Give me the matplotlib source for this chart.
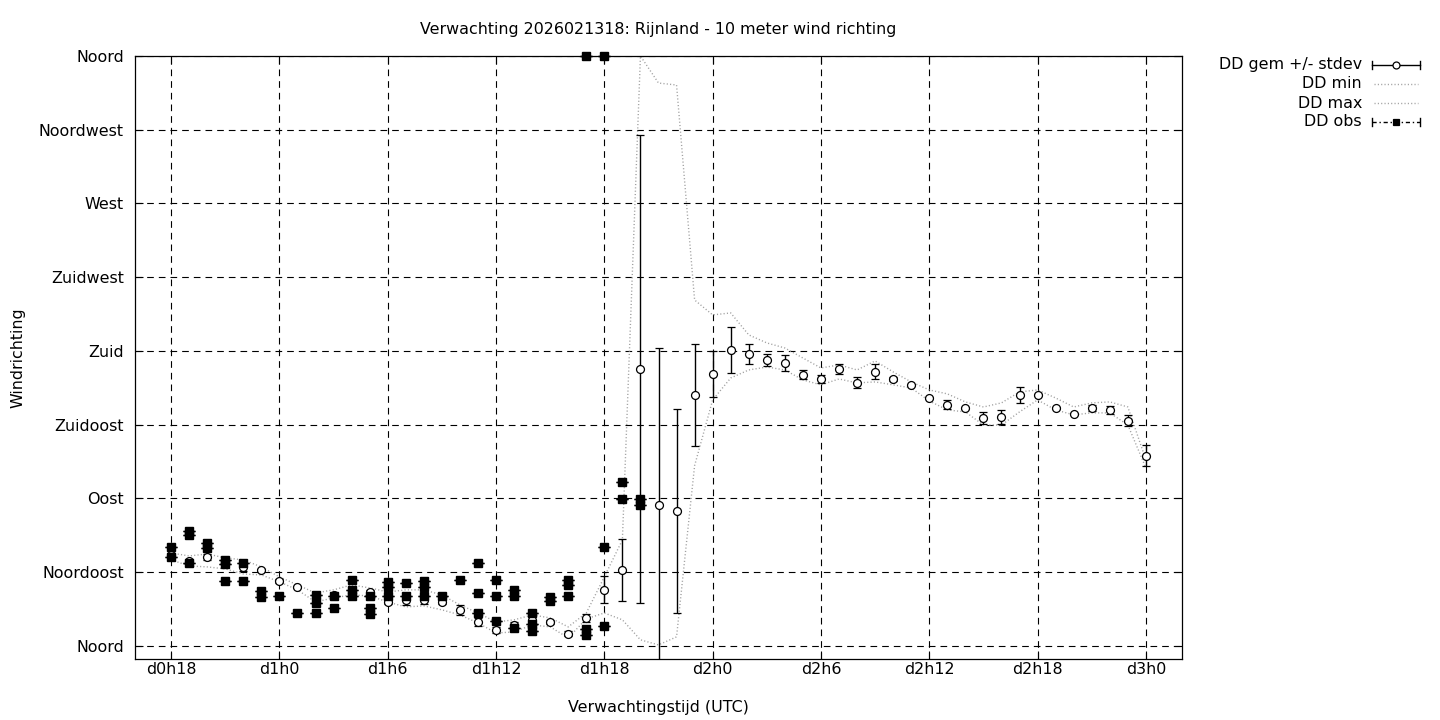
import matplotlib
matplotlib.use('Agg')
import matplotlib.pyplot as plt
from matplotlib.lines import Line2D

# forecast hours (d0h18 = 18 ... d3h0 = 72)
hours = list(range(18, 73))

# mean wind direction (degrees) per forecast hour
dd_mean = [55.5, 51.9, 54.3, 50.6, 48.2, 46.4, 39.7, 36.0, 29.3, 31.1,
           33.6, 32.9, 26.8, 28.1, 28.1, 26.8, 22.0, 14.6, 9.8, 12.8,
           15.9, 14.6, 7.3, 17.1, 34.2, 46.4, 169.0, 86.0, 82.4, 153.2,
           166.0, 180.6, 178.2, 174.5, 172.7, 165.4, 162.9, 169.0, 160.5, 167.2,
           162.9, 159.3, 151.3, 147.1, 145.2, 139.1, 139.7, 153.2, 153.2, 145.2,
           141.6, 145.2, 144.0, 137.3, 115.9]
# standard deviation
dd_std = [1.0, 1.0, 2.0, 1.0, 2.5, 0.6, 1.2, 0.6, 1.0, 1.0,
          1.0, 1.0, 1.2, 3.0, 2.5, 1.2, 3.0, 2.4, 2.0, 2.0,
          2.0, 1.0, 1.5, 2.5, 8.2, 18.9, 142.8, 95.8, 62.2, 31.1,
          14.0, 14.0, 6.1, 3.7, 4.9, 2.7, 2.7, 3.0, 3.4, 4.6,
          1.5, 0.6, 0.6, 2.7, 0.6, 3.4, 4.0, 4.9, 0.6, 0.6,
          0.6, 1.8, 2.4, 3.4, 6.4]
# ensemble minimum
dd_min = [52.5, 48.8, 48.2, 47.0, 43.9, 43.3, 39.1, 34.2, 26.8, 29.3,
          31.1, 30.5, 26.8, 23.8, 24.4, 22.0, 18.9, 14.0, 7.9, 8.5,
          12.8, 11.6, 4.9, 16.5, 20.1, 15.9, 3.7, 0.6, 5.5, 110.0,
          150.1, 163.5, 168.4, 170.2, 168.4, 162.3, 159.3, 162.9, 160.5, 161.1,
          159.3, 157.4, 149.5, 144.0, 142.8, 134.8, 134.8, 142.8, 150.1, 144.0,
          141.0, 142.2, 142.2, 134.8, 108.6]
# ensemble maximum
dd_max = [56.7, 54.9, 56.1, 53.7, 52.5, 48.2, 42.1, 37.2, 32.3, 34.2,
          37.2, 35.4, 32.9, 34.2, 34.2, 31.1, 25.0, 20.1, 14.6, 15.9,
          18.9, 17.1, 11.6, 20.1, 42.1, 64.7, 360.0, 343.5, 342.3, 211.1,
          202.0, 203.2, 189.8, 184.9, 181.8, 175.7, 169.6, 171.5, 168.4, 173.9,
          167.2, 161.1, 156.2, 153.8, 148.9, 145.8, 148.3, 155.0, 156.2, 151.3,
          145.8, 148.3, 148.9, 145.8, 113.5]

# observations (several stations)
obs_hours = [18, 18, 19, 19, 19, 20, 20, 21, 21, 21,
             22, 22, 23, 23, 24, 25, 26, 26, 26, 27,
             27, 28, 28, 28, 29, 29, 29, 30, 30, 30,
             31, 31, 32, 32, 32, 33, 34, 35, 35, 35,
             36, 36, 36, 37, 37, 37, 38, 38, 38, 39,
             39, 40, 40, 40, 41, 41, 41, 42, 42, 42,
             43, 43, 44, 44]
obs_dd = [60.4, 54.3, 70.2, 67.7, 50.6, 62.8, 59.8, 52.5, 50.0, 39.7,
          50.6, 39.7, 33.6, 29.9, 30.5, 20.1, 31.1, 26.2, 20.1, 30.5,
          23.2, 40.3, 34.2, 30.5, 30.5, 23.2, 19.5, 39.1, 36.0, 30.5,
          38.4, 30.5, 39.7, 36.0, 30.5, 30.5, 40.3, 50.6, 32.3, 20.1,
          40.3, 30.5, 15.3, 34.2, 30.5, 11.0, 20.1, 13.4, 9.2, 29.9,
          27.5, 40.3, 37.2, 30.5, 360.0, 10.4, 6.7, 360.0, 60.4, 12.2,
          100.1, 89.7, 89.7, 86.0]
obs_err = [0.0] * len(obs_dd)

ytick_vals = [0, 45, 90, 135, 180, 225, 270, 315, 360]
ytick_labels = ['Noord', 'Noordoost', 'Oost', 'Zuidoost', 'Zuid',
                'Zuidwest', 'West', 'Noordwest', 'Noord']
xtick_vals = list(range(18, 73, 6))
xtick_labels = ['d0h18', 'd1h0', 'd1h6', 'd1h12', 'd1h18',
                'd2h0', 'd2h6', 'd2h12', 'd2h18', 'd3h0']

plt.rcParams['font.family'] = ['DejaVu Sans']
fs = 11.4
dot = (0, (0.8, 1.6))

fig = plt.figure(figsize=(14.4, 7.2), dpi=100)
ax = fig.add_axes([135/1440, 1 - 659/720, (1182 - 135)/1440, (659 - 56)/720])

# mean +/- stdev
ax.errorbar(hours, dd_mean, yerr=dd_std, fmt='o', color='black',
            mfc='white', mec='black', ms=5.7, mew=0.9,
            elinewidth=1.0, capsize=3, capthick=1.0, zorder=3)
# min / max
ax.plot(hours, dd_min, linestyle=dot, color='#a0a0a0', lw=1.0, zorder=2)
ax.plot(hours, dd_max, linestyle=dot, color='#a0a0a0', lw=1.0, zorder=2)
# observations
ax.errorbar(obs_hours, obs_dd, yerr=obs_err, fmt='s', color='black',
            ms=5.8, elinewidth=1.0, capsize=4.2, capthick=1.0,
            zorder=4, clip_on=False)

ax.set_xlim(16, 74)
ax.set_ylim(-8, 360)
ax.set_xticks(xtick_vals)
ax.set_xticklabels(xtick_labels, fontsize=fs)
ax.set_yticks(ytick_vals)
ax.set_yticklabels(ytick_labels, fontsize=fs)
ax.tick_params(direction='in', length=6, width=0.8, top=True, right=True)
ax.tick_params(axis='x', pad=2.5)
ax.tick_params(axis='y', pad=8)
ax.grid(True, color='black', linestyle=(0, (6, 4.5)), linewidth=0.8)
for s in ax.spines.values():
    s.set_linewidth(0.9)

ax.set_title('Verwachting 2026021318: Rijnland - 10 meter wind richting',
             fontsize=fs, pad=16)
ax.set_xlabel('Verwachtingstijd (UTC)', fontsize=fs, labelpad=16)
ax.set_ylabel('Windrichting', fontsize=fs, labelpad=10)

# legend drawn by hand (gnuplot style)
def fx(px):
    return px / 1440

def fy(py):
    return 1 - py / 720

rows = [65, 84, 103, 122]
names = ['DD gem +/- stdev', 'DD min', 'DD max', 'DD obs']
for r, name in zip(rows, names):
    fig.text(fx(1362), fy(r), name, ha='right', va='center', fontsize=fs)

def sample_bar(r, ls, marker, mfc):
    fig.add_artist(Line2D([fx(1372), fx(1420)], [fy(r), fy(r)], color='black',
                          lw=1.0, linestyle=ls, transform=fig.transFigure))
    for xe in (1372, 1420):
        fig.add_artist(Line2D([fx(xe), fx(xe)], [fy(r - 4), fy(r + 4)], color='black',
                              lw=1.0, transform=fig.transFigure))
    fig.add_artist(Line2D([fx(1396)], [fy(r)], marker=marker, ms=5, mfc=mfc,
                          mec='black', mew=0.9, transform=fig.transFigure))

sample_bar(rows[0], '-', 'o', 'white')
for r in rows[1:3]:
    fig.add_artist(Line2D([fx(1374), fx(1418)], [fy(r), fy(r)], color='#a0a0a0',
                          lw=1.0, linestyle=dot, transform=fig.transFigure))
sample_bar(rows[3], (0, (3, 2, 1, 2)), 's', 'black')

fig.savefig('out.png', dpi=100)
